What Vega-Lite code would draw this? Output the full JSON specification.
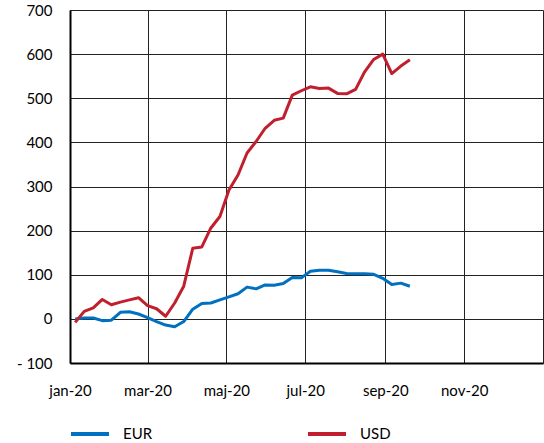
{
  "$schema": "https://vega.github.io/schema/vega-lite/v6.json",
  "width": 473,
  "height": 353,
  "autosize": "none",
  "padding": {"left": 70, "top": 10, "right": 1, "bottom": 80},
  "background": "white",
  "data": {
    "values": [
      {"date": "2020-01-05", "EUR": 0, "USD": -8},
      {"date": "2020-01-12", "EUR": 2, "USD": 17},
      {"date": "2020-01-19", "EUR": 2, "USD": 25},
      {"date": "2020-01-26", "EUR": -4, "USD": 44},
      {"date": "2020-02-02", "EUR": -3, "USD": 32},
      {"date": "2020-02-09", "EUR": 15, "USD": 38},
      {"date": "2020-02-16", "EUR": 16, "USD": 43},
      {"date": "2020-02-23", "EUR": 11, "USD": 48},
      {"date": "2020-03-01", "EUR": 3, "USD": 30},
      {"date": "2020-03-08", "EUR": -6, "USD": 23},
      {"date": "2020-03-15", "EUR": -14, "USD": 6},
      {"date": "2020-03-22", "EUR": -18, "USD": 36},
      {"date": "2020-03-29", "EUR": -6, "USD": 74},
      {"date": "2020-04-05", "EUR": 22, "USD": 160},
      {"date": "2020-04-12", "EUR": 35, "USD": 163},
      {"date": "2020-04-19", "EUR": 36, "USD": 206},
      {"date": "2020-04-26", "EUR": 43, "USD": 232},
      {"date": "2020-05-03", "EUR": 50, "USD": 292},
      {"date": "2020-05-10", "EUR": 57, "USD": 326},
      {"date": "2020-05-17", "EUR": 72, "USD": 376},
      {"date": "2020-05-24", "EUR": 68, "USD": 402},
      {"date": "2020-05-31", "EUR": 77, "USD": 432},
      {"date": "2020-06-07", "EUR": 76, "USD": 450},
      {"date": "2020-06-14", "EUR": 80, "USD": 455},
      {"date": "2020-06-21", "EUR": 94, "USD": 507},
      {"date": "2020-06-28", "EUR": 93, "USD": 517},
      {"date": "2020-07-05", "EUR": 108, "USD": 526},
      {"date": "2020-07-12", "EUR": 110, "USD": 522},
      {"date": "2020-07-19", "EUR": 110, "USD": 523},
      {"date": "2020-07-26", "EUR": 107, "USD": 511},
      {"date": "2020-08-02", "EUR": 103, "USD": 510},
      {"date": "2020-08-09", "EUR": 102, "USD": 520},
      {"date": "2020-08-16", "EUR": 102, "USD": 560},
      {"date": "2020-08-23", "EUR": 101, "USD": 588},
      {"date": "2020-08-30", "EUR": 92, "USD": 600},
      {"date": "2020-09-06", "EUR": 78, "USD": 556},
      {"date": "2020-09-13", "EUR": 81, "USD": 573},
      {"date": "2020-09-20", "EUR": 74, "USD": 587}
    ]
  },
  "transform": [
    {"fold": ["EUR", "USD"], "as": ["series", "value"]}
  ],
  "mark": {"type": "line", "strokeWidth": 3, "strokeJoin": "round"},
  "encoding": {
    "x": {
      "field": "date",
      "type": "temporal",
      "title": null,
      "scale": {
        "type": "utc",
        "domain": [
          {"year": 2020, "month": 1, "date": 1, "utc": true},
          {"year": 2021, "month": 1, "date": 1, "utc": true}
        ]
      },
      "axis": {
        "values": [
          {"year": 2020, "month": 1, "date": 1, "utc": true},
          {"year": 2020, "month": 3, "date": 1, "utc": true},
          {"year": 2020, "month": 5, "date": 1, "utc": true},
          {"year": 2020, "month": 7, "date": 1, "utc": true},
          {"year": 2020, "month": 9, "date": 1, "utc": true},
          {"year": 2020, "month": 11, "date": 1, "utc": true},
          {"year": 2021, "month": 1, "date": 1, "utc": true}
        ],
        "labelExpr": "utcyear(datum.value) > 2020 ? '' : ['jan','feb','mar','apr','maj','jun','jul','aug','sep','okt','nov','dec'][utcmonth(datum.value)] + '-' + (utcyear(datum.value) % 100)",
        "grid": true,
        "gridColor": "#222222",
        "gridWidth": 1,
        "gridOpacity": 1,
        "ticks": false,
        "domainColor": "#000000",
        "domainWidth": 2,
        "labelPadding": 20,
        "labelFontSize": 15,
        "labelColor": "#000000",
        "labelFont": "Lato",
        "labelAlign": "center",
        "labelFlush": false,
        "labelOverlap": false
      }
    },
    "y": {
      "field": "value",
      "type": "quantitative",
      "title": null,
      "scale": {"domain": [-100, 700], "nice": false, "zero": false},
      "axis": {
        "values": [-100, 0, 100, 200, 300, 400, 500, 600, 700],
        "labelExpr": "datum.value < 0 ? '- ' + abs(datum.value) : datum.label",
        "grid": true,
        "gridColor": "#222222",
        "gridWidth": 1,
        "gridOpacity": 1,
        "ticks": false,
        "domainColor": "#000000",
        "domainWidth": 2,
        "labelPadding": 18,
        "labelFontSize": 15,
        "labelColor": "#000000",
        "labelFont": "Lato",
        "labelFlush": false,
        "labelOverlap": false
      }
    },
    "color": {
      "field": "series",
      "type": "nominal",
      "scale": {"domain": ["EUR", "USD"], "range": ["#0070C0", "#C0202E"]},
      "legend": {
        "title": null,
        "orient": "none",
        "legendX": -1,
        "legendY": 403,
        "direction": "horizontal",
        "columns": 2,
        "columnPadding": 147,
        "symbolType": "stroke",
        "symbolSize": 1444,
        "symbolStrokeWidth": 4,
        "labelOffset": 12,
        "labelFontSize": 15,
        "labelFont": "Lato",
        "labelColor": "#000000"
      }
    }
  },
  "config": {
    "view": {"stroke": null},
    "font": "Lato"
  }
}
